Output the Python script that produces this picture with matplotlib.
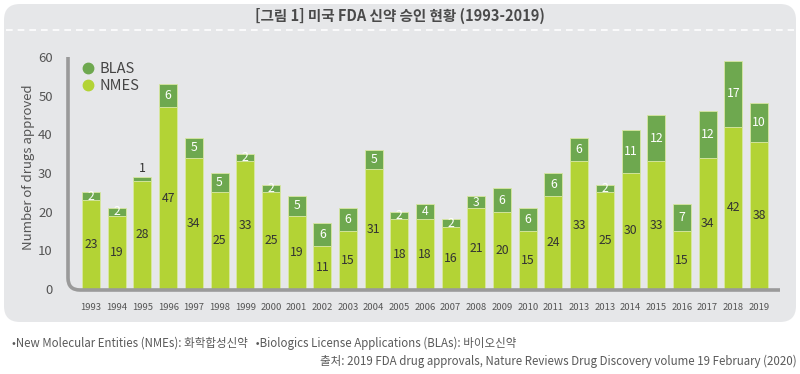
import matplotlib
matplotlib.use("Agg")
import matplotlib.pyplot as plt
from matplotlib.patches import FancyBboxPatch, PathPatch
from matplotlib.path import Path
from matplotlib.lines import Line2D
from matplotlib.transforms import IdentityTransform

plt.rcParams['font.family'] = ['Noto Sans CJK KR', 'DejaVu Sans']

# Data
years = ["1993", "1994", "1995", "1996", "1997", "1998", "1999", "2000", "2001",
         "2002", "2003", "2004", "2005", "2006", "2007", "2008", "2009", "2010",
         "2011", "2013", "2013", "2014", "2015", "2016", "2017", "2018", "2019"]
nmes = [23, 19, 28, 47, 34, 25, 33, 25, 19, 11, 15, 31, 18, 18, 16, 21, 20, 15,
        24, 33, 25, 30, 33, 15, 34, 42, 38]
blas = [2, 2, 1, 6, 5, 5, 2, 2, 5, 6, 6, 5, 2, 4, 2, 3, 6, 6,
        6, 6, 2, 11, 12, 7, 12, 17, 10]
series_names = ["BLAS", "NMES"]
y_ticks = [0, 10, 20, 30, 40, 50, 60]

title = "[그림 1] 미국 FDA 신약 승인 현황 (1993-2019)"
note1 = "•New Molecular Entities (NMEs): 화학합성신약   •Biologics License Applications (BLAs): 바이오신약"
note2 = "출처: 2019 FDA drug approvals, Nature Reviews Drug Discovery volume 19 February (2020)"

W, H = 800, 374
NME_COLOR = "#b3d335"
BLA_COLOR = "#6ea84f"
PANEL = "#e6e7e9"
AXIS_GRAY = "#9a9a9a"

fig = plt.figure(figsize=(W / 100, H / 100), dpi=100)


def px(x, y):
    # top-left pixel coords -> display coords
    return (x, H - y)


# background panel
panel = FancyBboxPatch(px(4, 322), 792, 318,
                       boxstyle="round,pad=0,rounding_size=16",
                       facecolor=PANEL, edgecolor="none",
                       transform=IdentityTransform(), zorder=0)
fig.add_artist(panel)

# dashed separator under the title
fig.add_artist(Line2D([6 / W, 794 / W], [1 - 30 / H, 1 - 30 / H],
                      color="white", lw=1.2, ls=(0, (4, 3)),
                      transform=fig.transFigure))

fig.text(0.5, 1 - 16 / H, title, ha="center", va="center",
         fontsize=10.5, color="#4a4a4a", fontweight="semibold")

# axes placement
ax_left, ax_right, ax_bottom, ax_top = 68, 780, 289, 45
ax = fig.add_axes([ax_left / W, (H - ax_bottom) / H,
                   (ax_right - ax_left) / W, (ax_bottom - ax_top) / H])
ax.set_facecolor("none")
for s in ax.spines.values():
    s.set_visible(False)

x = range(len(years))
ax.bar(x, nmes, width=0.7, color=NME_COLOR, edgecolor="#d8e8a0", linewidth=0.6, zorder=2)
ax.bar(x, blas, width=0.7, bottom=nmes, color=BLA_COLOR, edgecolor="#d8e8a0", linewidth=0.6, zorder=2)

for i in x:
    ax.text(i, nmes[i] / 2, str(nmes[i]), ha="center", va="center",
            fontsize=8.8, color="#333333", zorder=3)
    if blas[i] >= 2:
        ax.text(i, nmes[i] + blas[i] / 2, str(blas[i]), ha="center", va="center",
                fontsize=8.8, color="white", zorder=3)
    else:
        ax.text(i, nmes[i] + blas[i] + 0.6, str(blas[i]), ha="center", va="bottom",
                fontsize=8.8, color="#333333", zorder=3)

ax.set_xlim(-0.9, len(years) - 1 + 0.82)
ax.set_ylim(0, (ax_bottom - ax_top) / ((ax_bottom - 57) / 60))
ax.set_yticks(y_ticks)
ax.set_yticklabels([str(t) for t in y_ticks], fontsize=9.5, color="#555555")
ax.set_xticks(list(x))
ax.set_xticklabels(years, fontsize=6.8, color="#555555")
ax.tick_params(axis="both", length=0)
ax.tick_params(axis="y", pad=11)
ax.tick_params(axis="x", pad=10)
ax.set_ylabel("Number of drugs approved", fontsize=9.5, color="#555555", labelpad=2)

# legend
handles = [Line2D([], [], marker="o", ls="none", markersize=7.5, color=BLA_COLOR),
           Line2D([], [], marker="o", ls="none", markersize=7.5, color=NME_COLOR)]
ax.legend(handles, series_names, loc="upper left", bbox_to_anchor=(-0.003, 0.985),
          frameon=False, fontsize=10.5, labelcolor="#444444",
          handletextpad=0.2, labelspacing=0.25, handlelength=1.2)

# rounded axis line (left + bottom)
r = 12
xa, yt, yb, xr = 68, 57, 290, 780
verts = [px(xa, yt), px(xa, yb - r), px(xa, yb), px(xa + r, yb), px(xr, yb)]
codes = [Path.MOVETO, Path.LINETO, Path.CURVE3, Path.CURVE3, Path.LINETO]
fig.add_artist(PathPatch(Path(verts, codes), facecolor="none", edgecolor=AXIS_GRAY,
                         lw=2.6, transform=IdentityTransform(), zorder=4))

fig.text(12 / W, 1 - 343 / H, note1, ha="left", va="center", fontsize=8.3, color="#5a5a5a")
fig.text(797 / W, 1 - 361 / H, note2, ha="right", va="center", fontsize=8.3, color="#5a5a5a")

fig.savefig("out.png", dpi=100, facecolor="white")
